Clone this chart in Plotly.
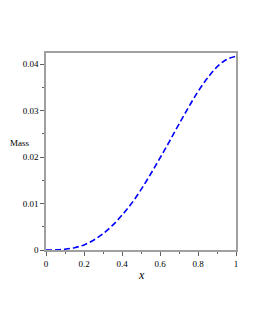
import plotly.graph_objects as go

x_vals = [0, 0.05, 0.1, 0.15, 0.2, 0.25, 0.3, 0.35, 0.4, 0.45, 0.5, 0.55,
          0.6, 0.65, 0.7, 0.75, 0.8, 0.85, 0.9, 0.95, 1.0]
mass_vals = [0, 0.00002, 0.00016, 0.0005, 0.0011, 0.0021, 0.0035, 0.0053,
             0.0075, 0.0100, 0.0130, 0.0163, 0.0198, 0.0234, 0.0271, 0.0307,
             0.0341, 0.0370, 0.0394, 0.0410, 0.0417]
x_ticks = [0, 0.2, 0.4, 0.6, 0.8, 1]
x_ticklabels = ["0", "0.2", "0.4", "0.6", "0.8", "1"]
y_ticks = [0, 0.01, 0.02, 0.03, 0.04]
y_ticklabels = ["0", "0.01", "0.02", "0.03", "0.04"]

serif = "Liberation Serif, Times New Roman, serif"
fig = go.Figure()
fig.add_trace(go.Scatter(x=x_vals, y=mass_vals, mode="lines", cliponaxis=False,
                         line=dict(color="#0000ff", width=1.6, dash="6px,3px", shape="spline"),
                         showlegend=False, hoverinfo="skip"))

axis_common = dict(showgrid=False, zeroline=False, showline=True, mirror=True,
                   linecolor="#a0a0a0", linewidth=1.5, ticks="outside",
                   ticklen=4, tickwidth=1, tickcolor="#606060", automargin=False,
                   tickfont=dict(family=serif, size=9, color="black"))

fig.update_xaxes(range=[0, 1], tickvals=x_ticks, ticktext=x_ticklabels,
                 minor=dict(dtick=0.1, ticks="outside", ticklen=2, tickcolor="#606060"),
                 **axis_common)
fig.update_yaxes(range=[0, 0.0424], tickvals=y_ticks, ticktext=y_ticklabels,
                 minor=dict(dtick=0.005, ticks="outside", ticklen=2, tickcolor="#606060"),
                 **axis_common)

fig.add_annotation(text="Mass", xref="paper", yref="paper", x=-0.075, y=0.545,
                   xanchor="right", yanchor="middle", showarrow=False,
                   font=dict(family=serif, size=9, color="black"))
fig.add_annotation(text="<i>x</i>", xref="paper", yref="paper", x=0.5, y=-0.08,
                   xanchor="center", yanchor="top", showarrow=False,
                   font=dict(family=serif, size=12, color="black"))

fig.update_layout(width=247, height=322, paper_bgcolor="white", plot_bgcolor="white",
                  margin=dict(l=38, r=19, t=45, b=80, autoexpand=False))
fig.write_html("out.html")
